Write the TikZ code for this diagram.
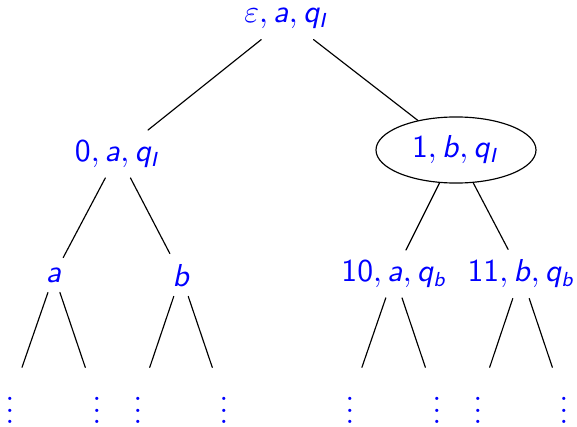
\documentclass[tikz,border=0pt]{standalone}
\usetikzlibrary{shapes.geometric}
\DeclareMathAlphabet{\mathsfit}{OT1}{cmss}{m}{sl}
\newcommand{\cifra}[1]{\mathsf{#1}}
\newcommand{\lettera}[1]{\mathsfit{#1}}

\begin{document}
\begin{tikzpicture}[x=0.345pt,y=-0.345pt,line join=round,line cap=round,
    font=\fontsize{10.6}{12.7}\selectfont,
    stato/.style={text=blue,inner sep=3.4pt},
    cerchiato/.style={stato,draw,ellipse,line width=0.4pt,
                      minimum width=55.2pt,minimum height=22.8pt,inner sep=0pt},
    punti/.style={text=blue,inner sep=4.2pt},
    ramo/.style={line width=0.4pt}]

  \useasboundingbox (0,0) rectangle (577,426);

  % ---- radice ---------------------------------------------------------------
  \node[stato] (R) at (287,19) {$\varepsilon, \lettera{a}, \lettera{q}_{\lettera{I}}$};

  % ---- primo livello --------------------------------------------------------
  \node[stato]     (L)  at (118,154) {$\cifra{0}, \lettera{a}, \lettera{q}_{\lettera{I}}$};
  \node[cerchiato] (D)  at (456,150) {$\cifra{1}, \lettera{b}, \lettera{q}_{\lettera{I}}$};

  % ---- secondo livello ------------------------------------------------------
  \node[stato] (LA) at (54,275)  {$\lettera{a}$};
  \node[stato] (LB) at (181,275) {$\lettera{b}$};
  \node[stato] (DA) at (394,274) {$\cifra{10}, \lettera{a}, \lettera{q}_{\lettera{b}}$};
  \node[stato] (DB) at (521,274) {$\cifra{11}, \lettera{b}, \lettera{q}_{\lettera{b}}$};

  % ---- terzo livello: puntini -----------------------------------------------
  \node[punti] (P1) at (10,402)  {$\vdots$};
  \node[punti] (P2) at (97,402)  {$\vdots$};
  \node[punti] (P3) at (138,402) {$\vdots$};
  \node[punti] (P4) at (224,402) {$\vdots$};
  \node[punti] (P5) at (350,402) {$\vdots$};
  \node[punti] (P6) at (437,402) {$\vdots$};
  \node[punti] (P7) at (478,402) {$\vdots$};
  \node[punti] (P8) at (564,402) {$\vdots$};

  % ---- rami -----------------------------------------------------------------
  \draw[ramo] (R) -- (L);
  \draw[ramo] (R) -- (D);

  \draw[ramo] (L) -- (LA);
  \draw[ramo] (L) -- (LB);
  \draw[ramo] (D) -- (DA);
  \draw[ramo] (D) -- (DB);

  \draw[ramo] (LA) -- (P1);
  \draw[ramo] (LA) -- (P2);
  \draw[ramo] (LB) -- (P3);
  \draw[ramo] (LB) -- (P4);
  \draw[ramo] (DA) -- (P5);
  \draw[ramo] (DA) -- (P6);
  \draw[ramo] (DB) -- (P7);
  \draw[ramo] (DB) -- (P8);

\end{tikzpicture}
\end{document}
